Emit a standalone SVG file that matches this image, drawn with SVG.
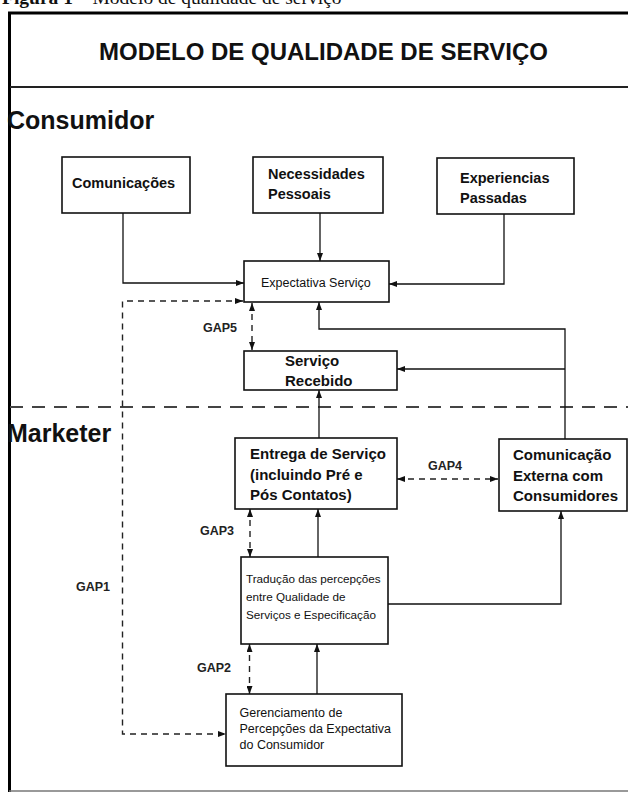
<svg xmlns="http://www.w3.org/2000/svg" width="628" height="793" viewBox="0 0 628 793">
<defs>
<marker id="ah" viewBox="0 0 8 6" refX="8" refY="3" markerWidth="8" markerHeight="6" markerUnits="userSpaceOnUse" orient="auto-start-reverse">
<path d="M0,0 L8,3 L0,6 z" fill="#111"/>
</marker>
<style>
.box{fill:#fff;stroke:#111;stroke-width:1.6}
.b{font-family:"Liberation Sans",Arial,sans-serif;font-weight:bold;fill:#111}
.r{font-family:"Liberation Sans",Arial,sans-serif;fill:#111}
.gap{font-family:"Liberation Sans",Arial,sans-serif;font-weight:bold;font-size:12.5px;fill:#222}
.c{fill:none;stroke:#111;stroke-width:1.3}
.d{fill:none;stroke:#222;stroke-width:1.4;stroke-dasharray:6 5}
</style>
</defs>
<rect width="628" height="793" fill="#fff"/>
<text x="2" y="4" font-family="Liberation Serif,serif" font-size="19.5" fill="#111"><tspan font-weight="bold">Figura 1</tspan> – Modelo de qualidade de serviço</text>
<g id="frame">
<line x1="8" y1="13" x2="628" y2="13" stroke="#000" stroke-width="3"/>
<line x1="9.5" y1="12" x2="9.5" y2="792" stroke="#000" stroke-width="3"/>
<line x1="9" y1="791" x2="628" y2="791" stroke="#777" stroke-width="1.5"/>
<line x1="10" y1="87" x2="628" y2="87" stroke="#222" stroke-width="1.8"/>
<line x1="10" y1="407" x2="628" y2="407" stroke="#444" stroke-width="2" stroke-dasharray="13 9"/>
</g>
<text class="b" x="323.5" y="60" font-size="24" text-anchor="middle">MODELO DE QUALIDADE DE SERVIÇO</text>
<text class="b" x="7" y="129" font-size="25">Consumidor</text>
<text class="b" x="7" y="442" font-size="25">Marketer</text>

<g id="connectors">
<path class="c" d="M123,213 V283 H244" marker-end="url(#ah)"/>
<path class="c" d="M320,213 V261" marker-end="url(#ah)"/>
<path class="c" d="M504,214 V284 H389" marker-end="url(#ah)"/>
<path class="c" d="M565,439 V329 H319 V302" marker-end="url(#ah)"/>
<path class="c" d="M565,369 H397" marker-end="url(#ah)"/>
<path class="c" d="M319,438 V390" marker-end="url(#ah)"/>
<path class="c" d="M318,557 V509" marker-end="url(#ah)"/>
<path class="c" d="M388,604 H561 V511" marker-end="url(#ah)"/>
<path class="c" d="M317,694 V644" marker-end="url(#ah)"/>
<path class="d" d="M252,303 V350" marker-start="url(#ah)" marker-end="url(#ah)"/>
<path class="d" d="M397,479 H498" marker-start="url(#ah)" marker-end="url(#ah)"/>
<path class="d" d="M250,509 V557" marker-start="url(#ah)" marker-end="url(#ah)"/>
<path class="d" d="M249.5,644 V694" marker-start="url(#ah)" marker-end="url(#ah)"/>
<path class="d" d="M243,301 H122.5 V734 H226" marker-start="url(#ah)" marker-end="url(#ah)"/>
<text class="gap" x="203" y="332">GAP5</text>
<text class="gap" x="428" y="470">GAP4</text>
<text class="gap" x="200" y="535">GAP3</text>
<text class="gap" x="76" y="591">GAP1</text>
<text class="gap" x="197" y="672">GAP2</text>
</g>

<g id="comunicacoes">
<rect class="box" x="62" y="157" width="128" height="56"/>
<text class="b" x="72" y="188" font-size="14.5">Comunicações</text>
</g>
<g id="necessidades">
<rect class="box" x="253" y="157" width="130" height="56"/>
<text class="b" x="268" y="179" font-size="14.5">Necessidades</text>
<text class="b" x="268" y="199" font-size="14.5">Pessoais</text>
</g>
<g id="experiencias">
<rect class="box" x="437" y="158" width="137" height="56"/>
<text class="b" x="460" y="183" font-size="14.5">Experiencias</text>
<text class="b" x="460" y="203" font-size="14.5">Passadas</text>
</g>
<g id="expectativa">
<rect class="box" x="244" y="261" width="145" height="41"/>
<text class="r" x="261" y="287" font-size="12.5">Expectativa Serviço</text>
</g>
<g id="servico-recebido">
<rect class="box" x="244" y="351" width="153" height="39"/>
<text class="b" x="285" y="366" font-size="15">Serviço</text>
<text class="b" x="285" y="386" font-size="15">Recebido</text>
</g>
<g id="entrega">
<rect class="box" x="235" y="438" width="162" height="71"/>
<text class="b" x="250" y="459" font-size="15">Entrega de Serviço</text>
<text class="b" x="250" y="480" font-size="15">(incluindo Pré e</text>
<text class="b" x="250" y="500" font-size="15">Pós Contatos)</text>
</g>
<g id="comunicacao-externa">
<rect class="box" x="499" y="439" width="128" height="72"/>
<text class="b" x="513" y="460" font-size="15">Comunicação</text>
<text class="b" x="513" y="481" font-size="15">Externa com</text>
<text class="b" x="513" y="501" font-size="15">Consumidores</text>
</g>
<g id="traducao">
<rect class="box" x="241" y="557" width="147" height="87"/>
<text class="r" x="246" y="583" font-size="11.7">Tradução das percepções</text>
<text class="r" x="246" y="601" font-size="11.7">entre Qualidade de</text>
<text class="r" x="246" y="619" font-size="11.7">Serviços e Especificação</text>
</g>
<g id="gerenciamento">
<rect class="box" x="226" y="694" width="176" height="72"/>
<text class="r" x="239.5" y="717" font-size="12.5">Gerenciamento de</text>
<text class="r" x="239.5" y="733" font-size="12.5">Percepções da Expectativa</text>
<text class="r" x="239.5" y="749" font-size="12.5">do Consumidor</text>
</g>
</svg>
